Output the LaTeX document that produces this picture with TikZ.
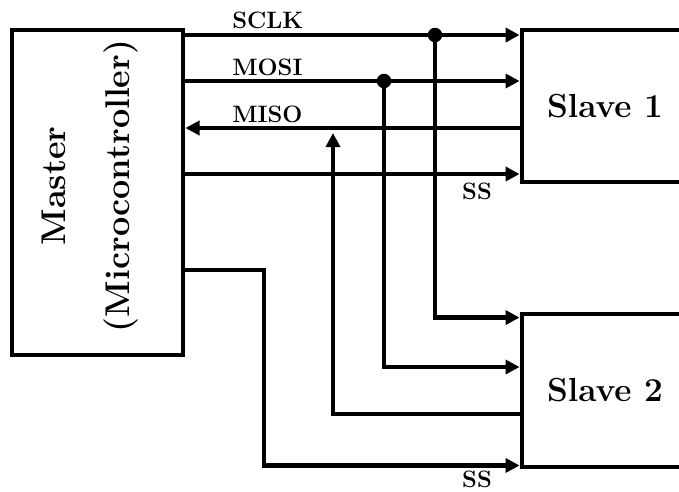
\documentclass[tikz,border=0pt]{standalone}
\usetikzlibrary{arrows.meta,positioning}
\tikzset{
  box/.style={draw, line width=2.8pt, inner sep=0pt, font=\fontsize{19}{21}\selectfont\bfseries},
  wire/.style={line width=2.8pt},
  sig/.style={wire, -{Triangle[length=8pt, width=8pt]}},
  dot/.style={circle, fill, inner sep=0pt, minimum size=0.29cm},
  sig label/.style={font=\fontsize{13.5}{15}\selectfont\bfseries, inner sep=0pt},
}

\begin{document}
\begin{tikzpicture}[x=0.02cm, y=-0.02cm]
  \clip (0,0) rectangle (679,491);

  % Boxes
  \node[box, minimum width=3.42cm, minimum height=6.5cm] (master) at (97.5,192.5) {};
  \node[rotate=90, align=center, font=\fontsize{19.5}{36}\selectfont\bfseries] (mastertext) at (90,186) {Master\\(Microcontroller)};
  \node[box, minimum width=3.32cm, minimum height=3.04cm] (slave1) at (605,106) {Slave 1};
  \node[box, minimum width=3.32cm, minimum height=3.06cm] (slave2) at (605,390.5) {Slave 2};

  % Junctions and bends
  \coordinate (sclk) at (435,35);
  \coordinate (mosi) at (384,81);
  \coordinate (miso) at (333,128);
  \coordinate (misotip) at (333,133);
  \coordinate (ssa) at (183,174);
  \coordinate (ssb) at (264,270);

  % Lines to slave 1
  \draw[sig] (master.east |- sclk) -- (slave1.west |- sclk);
  \draw[sig] (master.east |- mosi) -- (slave1.west |- mosi);
  \draw[sig] (slave1.west |- miso) -- (master.east |- miso);
  \draw[sig] (master.east |- ssa) -- (slave1.west |- ssa);

  % Lines to slave 2
  \draw[sig] (sclk) |- ([yshift=-0.12cm]slave2.north west);
  \draw[sig] (mosi) |- ([yshift=0.47cm]slave2.west);
  \draw[sig] ([yshift=-0.47cm]slave2.west) -| (misotip);
  \draw[sig] (master.east |- ssb) -- (ssb) |- ([yshift=0.08cm]slave2.south west);

  \node[dot] (sclkdot) at (sclk) {};
  \node[dot] (mosidot) at (mosi) {};

  % Labels
  \node[sig label, anchor=west] (sclklbl) at (232,20) {SCLK};
  \node[sig label, anchor=west] (mosilbl) at (232,67) {MOSI};
  \node[sig label, anchor=west] (misolbl) at (232,114) {MISO};
  \node[sig label] (ssalbl) at (477,191) {SS};
  \node[sig label] (ssblbl) at (477,479) {SS};
\end{tikzpicture}
\end{document}
